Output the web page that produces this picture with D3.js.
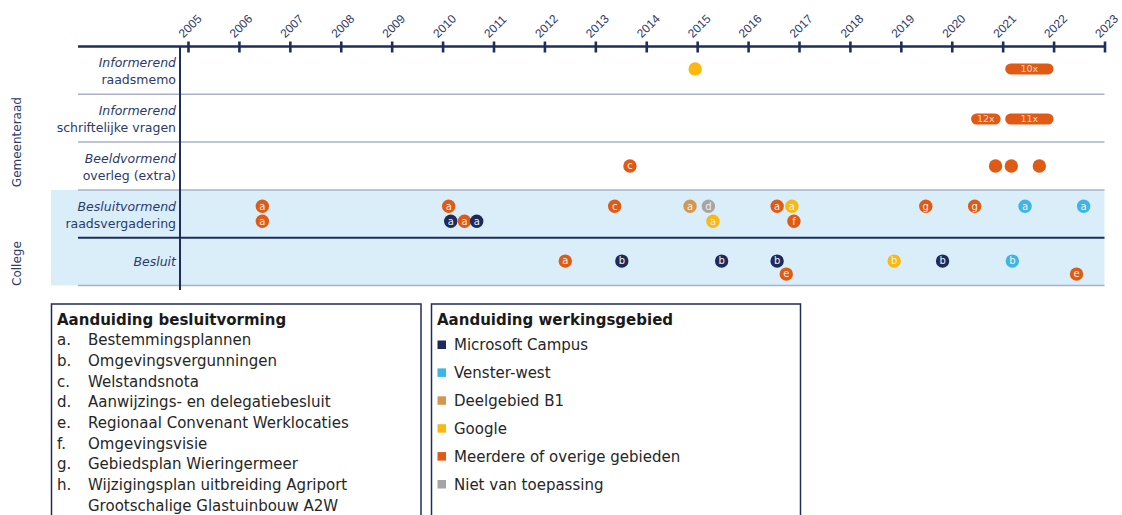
<!DOCTYPE html>
<html>
<head>
<meta charset="utf-8">
<script src="https://cdn.jsdelivr.net/npm/d3@7"></script>
<style>
  html, body { margin: 0; padding: 0; background: #fff; }
  svg { display: block; font-family: "DejaVu Sans", Verdana, sans-serif; }
</style>
</head>
<body>
<svg id="chart" width="1122" height="515"></svg>
<script>
// ---------- DATA ----------
const years = [2005, 2006, 2007, 2008, 2009, 2010, 2011, 2012, 2013, 2014,
               2015, 2016, 2017, 2018, 2019, 2020, 2021, 2022, 2023];

const rowKeys = ["memo", "vragen", "overleg", "vergadering", "besluit"];
const rowItalic = ["Informerend", "Informerend", "Beeldvormend", "Besluitvormend", "Besluit"];
const rowPlain = ["raadsmemo", "schriftelijke vragen", "overleg (extra)", "raadsvergadering", ""];

const groupNames = ["Gemeenteraad", "College"];
const groupRows = [["memo", "vragen", "overleg", "vergadering"], ["besluit"]];

const areaKeys = ["ms", "vw", "b1", "go", "mo", "nvt"];
const areaNames = ["Microsoft Campus", "Venster-west", "Deelgebied B1", "Google",
                   "Meerdere of overige gebieden", "Niet van toepassing"];

const decisionCodes = ["a.", "b.", "c.", "d.", "e.", "f.", "g.", "h.", ""];
const decisionLabels = ["Bestemmingsplannen", "Omgevingsvergunningen", "Welstandsnota",
  "Aanwijzings- en delegatiebesluit", "Regionaal Convenant Werklocaties",
  "Omgevingsvisie", "Gebiedsplan Wieringermeer", "Wijzigingsplan uitbreiding Agriport",
  "Grootschalige Glastuinbouw A2W"];

// events: [row, year, lane, letter, area]
const memoEvents = [["memo", 2014.96, 0, "", "go"]];
const overlegEvents = [
  ["overleg", 2013.68, 0, "c", "mo"],
  ["overleg", 2020.86, 0, "", "mo"],
  ["overleg", 2021.17, 0, "", "mo"],
  ["overleg", 2021.72, 0, "", "mo"]
];
const vergaderingEvents = [
  ["vergadering", 2006.46, 0, "a", "mo"],
  ["vergadering", 2006.46, 1, "a", "mo"],
  ["vergadering", 2010.12, 0, "a", "mo"],
  ["vergadering", 2010.16, 1, "a", "ms"],
  ["vergadering", 2010.43, 1, "a", "mo"],
  ["vergadering", 2010.67, 1, "a", "ms"],
  ["vergadering", 2013.38, 0, "c", "mo"],
  ["vergadering", 2014.86, 0, "a", "b1"],
  ["vergadering", 2015.22, 0, "d", "nvt"],
  ["vergadering", 2015.31, 1, "a", "go"],
  ["vergadering", 2016.57, 0, "a", "mo"],
  ["vergadering", 2016.86, 0, "a", "go"],
  ["vergadering", 2016.90, 1, "f", "mo"],
  ["vergadering", 2019.49, 0, "g", "mo"],
  ["vergadering", 2020.45, 0, "g", "mo"],
  ["vergadering", 2021.44, 0, "a", "vw"],
  ["vergadering", 2022.59, 0, "a", "vw"]
];
const besluitEvents = [
  ["besluit", 2012.41, 0, "a", "mo"],
  ["besluit", 2013.52, 0, "b", "ms"],
  ["besluit", 2015.48, 0, "b", "ms"],
  ["besluit", 2016.57, 0, "b", "ms"],
  ["besluit", 2016.75, 1, "e", "mo"],
  ["besluit", 2018.87, 0, "b", "go"],
  ["besluit", 2019.82, 0, "b", "ms"],
  ["besluit", 2021.19, 0, "b", "vw"],
  ["besluit", 2022.45, 1, "e", "mo"]
];

// counted periods: [row, start, end, label, area]
const periodEvents = [
  ["memo", 2021.05, 2022.0, "10x", "mo"],
  ["vragen", 2020.38, 2020.96, "12x", "mo"],
  ["vragen", 2021.05, 2022.0, "11x", "mo"]
];

// ---------- STYLE ----------
const areaColors = ["#1d2a5b", "#3db5e6", "#d4974f", "#fbb810", "#df5a15", "#a5a5a5"];
const navy = "#1f2d5c";
const textNavy = "#2c3a6c";
const sepColor = "#a9b0c8";
const bandBlue = "#d9eef9";
const laneOffsets = {memo: [-1.5], vragen: [0.8], overleg: [0], vergadering: [-7.5, 7.5], besluit: [-0.5, 12.5]};

const svg = d3.select("#chart");

const x = d3.scaleLinear().domain([2005, 2023]).range([188, 1104.5]);
const y = d3.scaleBand().domain(rowKeys).range([46.5, 285.5]);
const color = d3.scaleOrdinal(areaKeys, areaColors);
const areaName = d3.scaleOrdinal(areaKeys, areaNames);

const leftX = 78, bandLeft = 51, rightX = x(2023);

// blue band behind decision rows
svg.append("rect")
  .attr("x", bandLeft).attr("y", y("vergadering"))
  .attr("width", rightX - bandLeft)
  .attr("height", y("besluit") + y.bandwidth() - y("vergadering"))
  .attr("fill", bandBlue);

// row separators
rowKeys.forEach((k, i) => {
  const yy = y(k) + y.bandwidth();
  const isGroupEdge = k === "vergadering";
  svg.append("line")
    .attr("x1", leftX).attr("x2", rightX)
    .attr("y1", yy).attr("y2", yy)
    .attr("stroke", isGroupEdge ? navy : sepColor)
    .attr("stroke-width", isGroupEdge ? 2 : 1.5);
});

// vertical axis line
svg.append("line")
  .attr("x1", 180).attr("x2", 180)
  .attr("y1", y.range()[0]).attr("y2", 290)
  .attr("stroke", navy).attr("stroke-width", 2);

// top time axis
const axisY = y.range()[0];
const axis = d3.axisTop(x).tickValues(years).tickFormat(d3.format("d")).tickSize(0).tickPadding(0);
const axG = svg.append("g").attr("transform", `translate(0,${axisY})`).call(axis);
axG.select(".domain").remove();
axG.append("line").attr("x1", leftX).attr("x2", rightX).attr("y1", 0).attr("y2", 0)
  .attr("stroke", navy).attr("stroke-width", 2.5);
axG.selectAll(".tick").append("line")
  .attr("y1", -5).attr("y2", 6)
  .attr("stroke", navy).attr("stroke-width", 2.6);
axG.selectAll(".tick text")
  .attr("fill", textNavy)
  .attr("font-size", 12)
  .attr("text-anchor", "start")
  .attr("transform", "translate(-5,-8) rotate(-45)")
  .attr("dy", 0).attr("y", 0).attr("x", 0);

// row labels
const rowLab = svg.append("g").attr("fill", textNavy).attr("font-size", 12.5).attr("text-anchor", "end");
rowKeys.forEach((k, i) => {
  const cy = y(k) + y.bandwidth() / 2;
  if (rowPlain[i]) {
    rowLab.append("text").attr("x", 176).attr("y", cy - 7.5).attr("dy", "0.35em")
      .attr("font-style", "italic").text(rowItalic[i]);
    rowLab.append("text").attr("x", 176).attr("y", cy + 9.5).attr("dy", "0.35em").text(rowPlain[i]);
  } else {
    rowLab.append("text").attr("x", 176).attr("y", cy).attr("dy", "0.35em")
      .attr("font-style", "italic").text(rowItalic[i]);
  }
});

// group labels
groupNames.forEach((g, i) => {
  const rs = groupRows[i];
  const y0 = y(rs[0]), y1 = y(rs[rs.length - 1]) + y.bandwidth();
  const cy = i === 0 ? y("overleg") : (y0 + y1) / 2 + 2;
  svg.append("text")
    .attr("transform", `translate(17,${cy}) rotate(-90)`)
    .attr("text-anchor", "middle").attr("dy", "0.35em")
    .attr("fill", textNavy).attr("font-size", 12).text(g);
});

// periods (pills)
const pillH = 11;
const pills = svg.append("g").selectAll("g").data(periodEvents).join("g");
pills.append("rect")
  .attr("x", d => x(d[1])).attr("width", d => x(d[2]) - x(d[1]))
  .attr("y", d => y(d[0]) + y.bandwidth() / 2 + laneOffsets[d[0]][0] - pillH / 2)
  .attr("height", pillH).attr("rx", pillH / 2)
  .attr("fill", d => color(d[4]));
pills.append("text")
  .attr("x", d => (x(d[1]) + x(d[2])) / 2)
  .attr("y", d => y(d[0]) + y.bandwidth() / 2 + laneOffsets[d[0]][0])
  .attr("dy", "0.36em").attr("text-anchor", "middle")
  .attr("font-size", 9.5).attr("fill", "#f7d6c2").text(d => d[3]);

// event dots
const allEvents = [...memoEvents, ...overlegEvents, ...vergaderingEvents, ...besluitEvents];
const dots = svg.append("g").selectAll("g").data(allEvents).join("g")
  .attr("transform", d => `translate(${x(d[1])},${y(d[0]) + y.bandwidth() / 2 + laneOffsets[d[0]][d[2]]})`);
dots.append("circle").attr("r", 6.7).attr("fill", d => color(d[4]));
dots.append("text")
  .attr("text-anchor", "middle").attr("dy", "0.33em")
  .attr("font-size", 10).attr("fill", "#f4efe9").text(d => d[3]);

// legend 1: decision types
const lg1 = svg.append("g");
lg1.append("rect").attr("x", 51.5).attr("y", 304).attr("width", 369.5).attr("height", 230)
  .attr("fill", "none").attr("stroke", navy).attr("stroke-width", 1.5);
lg1.append("text").attr("x", 57).attr("y", 320).attr("dy", "0.35em")
  .attr("font-size", 15).attr("font-weight", "bold").attr("fill", "#1a1a1a")
  .text("Aanduiding besluitvorming");
decisionLabels.forEach((lab, i) => {
  const yy = 340 + i * 20.7;
  lg1.append("text").attr("x", 57).attr("y", yy).attr("dy", "0.35em")
    .attr("font-size", 15).attr("fill", "#262626").text(decisionCodes[i]);
  lg1.append("text").attr("x", 88).attr("y", yy).attr("dy", "0.35em")
    .attr("font-size", 15).attr("fill", "#262626").text(lab);
});

// legend 2: areas
const lg2 = svg.append("g");
lg2.append("rect").attr("x", 431.5).attr("y", 304).attr("width", 369).attr("height", 230)
  .attr("fill", "none").attr("stroke", navy).attr("stroke-width", 1.5);
lg2.append("text").attr("x", 437).attr("y", 320).attr("dy", "0.35em")
  .attr("font-size", 15).attr("font-weight", "bold").attr("fill", "#1a1a1a")
  .text("Aanduiding werkingsgebied");
areaKeys.forEach((k, i) => {
  const yy = 345 + i * 27.9;
  lg2.append("rect").attr("x", 437.5).attr("y", yy - 4.5).attr("width", 8.5).attr("height", 8.5)
    .attr("fill", color(k));
  lg2.append("text").attr("x", 454).attr("y", yy).attr("dy", "0.35em")
    .attr("font-size", 15).attr("fill", "#262626").text(areaName(k));
});
</script>
</body>
</html>
